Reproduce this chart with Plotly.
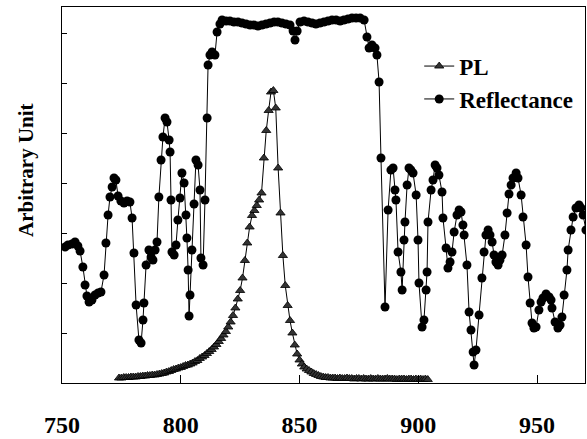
import plotly.graph_objects as go

# Reflectance (wavelength nm, arbitrary units)
refl_nm = [751.3, 752.5, 754.2, 755.5, 756.7, 757.6, 758.8, 759.7, 760.5, 761.4, 762.6, 763.9, 765.2, 766.4,
           767.7, 768.5, 769.4, 770.2, 771.1, 771.9, 772.7, 773.6, 774.8, 776.1, 777.4, 778.6, 779.5, 780.3,
           781.2, 782.4, 783.3, 784.1, 784.5, 785.4, 786.6, 787.5, 788.3, 789.2, 790.0, 790.8, 791.7, 792.5,
           793.4, 794.2, 795.1, 795.5, 795.9, 796.3, 797.2, 798.0, 798.8, 799.7, 800.5, 801.4, 802.2, 802.6,
           803.1, 803.5, 803.9, 804.7, 805.6, 806.4, 807.3, 808.1, 808.5, 809.4, 810.2, 811.1, 811.5, 812.3,
           813.2, 814.4, 815.3, 816.5,
           817.4, 819.1, 820.7, 822.4, 824.1, 825.8, 827.5, 829.2, 830.8, 832.5, 834.2, 835.9, 837.6, 839.3,
           840.9, 842.6, 844.3, 846.0, 847.3, 848.1, 849.0, 850.2, 851.9, 853.6, 855.3, 856.9, 858.6, 860.3,
           862.0, 863.7, 865.4, 867.1, 868.7, 870.4, 872.1, 873.8, 875.5, 877.2,
           878.4, 879.3, 880.5, 881.8, 882.6, 883.5, 884.3, 886.0, 887.3, 888.5, 889.4, 890.2, 890.6, 891.5,
           892.7, 893.2, 894.0, 894.4, 895.3, 896.1, 896.9, 897.8, 899.1, 899.9, 900.3, 901.6, 902.4, 903.3,
           903.7, 904.1, 905.4, 906.2, 907.1, 907.9, 908.7, 910.0, 910.4, 911.7, 912.5, 913.4, 914.2, 915.1,
           916.3, 917.2, 918.0, 918.8, 919.3, 920.5, 921.4, 922.2, 923.1, 923.5, 924.3, 925.6, 926.8, 927.7,
           928.5, 929.4, 930.2, 931.1, 931.9, 932.7, 933.6, 934.4, 935.3, 936.5, 937.4, 938.2, 939.1, 939.9,
           941.2, 942.0, 943.3, 944.1, 945.4, 946.2, 947.1, 947.9, 948.7, 949.6, 950.8, 951.7, 952.5, 953.8,
           955.1, 955.9, 956.3, 957.6, 958.8, 959.7, 960.5, 961.4, 962.6, 963.1, 964.3, 965.2, 966.4, 967.7,
           968.5, 969.4, 970.6]
refl_val = [2.72, 2.76, 2.78, 2.82, 2.74, 2.64, 2.32, 1.96, 1.74, 1.62, 1.66, 1.76, 1.80, 1.82,
            2.16, 2.80, 3.36, 3.72, 3.92, 4.10, 4.06, 3.74, 3.64, 3.60, 3.64, 3.62, 3.30, 2.60,
            1.56, 0.86, 0.80, 1.26, 1.60, 2.36, 2.66, 2.52, 2.46, 2.66, 2.82, 3.72, 4.46, 4.92,
            5.30, 5.22, 4.86, 4.62, 3.66, 2.62, 2.56, 2.76, 3.26, 3.70, 4.20, 4.00, 3.36, 2.90,
            2.26, 1.34, 1.76, 2.66, 3.58, 4.46, 4.36, 3.86, 2.50, 2.36, 3.66, 5.30, 6.36, 6.56,
            6.62, 6.56, 7.02, 7.18,
            7.26, 7.24, 7.24, 7.22, 7.22, 7.20, 7.18, 7.16, 7.16, 7.14, 7.16, 7.18, 7.20, 7.22,
            7.22, 7.20, 7.18, 7.16, 7.04, 6.86, 7.04, 7.22, 7.24, 7.22, 7.20, 7.18, 7.20, 7.22,
            7.24, 7.26, 7.26, 7.24, 7.26, 7.28, 7.30, 7.30, 7.30, 7.26,
            6.92, 6.70, 6.76, 6.70, 6.56, 6.02, 4.50, 1.52, 3.46, 4.26, 4.30, 3.86, 3.66, 2.62,
            2.22, 1.86, 2.86, 3.22, 3.96, 4.30, 4.26, 4.20, 3.76, 2.86, 2.00, 1.12, 1.26, 1.86,
            2.22, 3.22, 3.86, 4.06, 4.36, 4.30, 4.16, 3.82, 3.30, 2.70, 2.30, 2.42, 2.62, 3.02,
            3.36, 3.46, 3.42, 3.16, 2.96, 2.36, 1.42, 1.06, 0.62, 0.36, 0.66, 1.36, 2.10, 2.62,
            2.96, 3.06, 2.96, 2.82, 2.56, 2.42, 2.36, 2.46, 2.56, 2.96, 3.40, 3.78, 3.96, 4.10,
            4.20, 4.10, 3.76, 3.32, 2.76, 2.12, 1.60, 1.20, 1.10, 1.12, 1.46, 1.62, 1.70, 1.78,
            1.72, 1.66, 1.50, 1.22, 1.10, 1.16, 1.32, 1.76, 2.26, 2.66, 3.06, 3.32, 3.50, 3.56,
            3.50, 3.36, 3.06]

# Photoluminescence (1 nm steps from 774 to 904 nm)
pl_nm = list(range(774, 905))
pl_val = [0.10, 0.10, 0.11, 0.11, 0.11, 0.12, 0.12, 0.12, 0.13, 0.13,
          0.14, 0.14, 0.15, 0.15, 0.16, 0.16, 0.17, 0.18, 0.19, 0.20,
          0.22, 0.23, 0.25, 0.27, 0.28, 0.30, 0.31, 0.33, 0.35, 0.36,
          0.38, 0.40, 0.43, 0.45, 0.49, 0.52, 0.55, 0.59, 0.63, 0.67,
          0.72, 0.77, 0.83, 0.89, 0.96, 1.03, 1.12, 1.22, 1.35, 1.50,
          1.68, 1.85, 2.10, 2.45, 2.80, 3.12, 3.35, 3.45, 3.55, 3.66,
          3.80, 4.50, 5.05, 5.45, 5.82, 5.85, 5.50, 4.30, 3.40, 2.55,
          1.95, 1.55, 1.25, 1.00, 0.76, 0.58, 0.46, 0.38, 0.32, 0.28,
          0.25, 0.22, 0.19, 0.17, 0.15, 0.13, 0.12, 0.11, 0.11, 0.10,
          0.10, 0.10, 0.09, 0.10, 0.09, 0.09, 0.10, 0.09, 0.09, 0.08,
          0.09, 0.09, 0.08, 0.09, 0.08, 0.08, 0.09, 0.08, 0.08, 0.09,
          0.08, 0.08, 0.08, 0.09, 0.08, 0.08, 0.08, 0.07, 0.08, 0.08,
          0.08, 0.07, 0.08, 0.08, 0.07, 0.08, 0.07, 0.08, 0.07, 0.08,
          0.07]

x_ticks = [750, 800, 850, 900, 950]
y_ticks = [1, 2, 3, 4, 5, 6, 7]

SERIF = "Liberation Serif, Times New Roman, serif"

fig = go.Figure()
fig.add_trace(go.Scatter(
    x=pl_nm, y=pl_val, mode="lines+markers", name="PL",
    line=dict(color="black", width=1),
    marker=dict(symbol="triangle-up", size=8, color="#333333",
                line=dict(color="black", width=0.8)),
))
fig.add_trace(go.Scatter(
    x=refl_nm, y=refl_val, mode="lines+markers", name="Reflectance",
    line=dict(color="black", width=1),
    marker=dict(symbol="circle", size=9, color="black"),
))

fig.update_layout(
    width=587, height=439,
    margin=dict(l=62, r=2, t=7, b=56, autoexpand=False),
    paper_bgcolor="white", plot_bgcolor="white",
    showlegend=True,
    legend=dict(x=0.683, y=0.9, xanchor="left", yanchor="top",
                bgcolor="rgba(0,0,0,0)",
                font=dict(family=SERIF, size=23, color="black", weight="bold"),
                tracegroupgap=4),
    font=dict(family=SERIF, color="black"),
)
fig.update_xaxes(
    range=[750, 970.2], tickvals=x_ticks, ticktext=[str(v) for v in x_ticks],
    showgrid=False, zeroline=False, showline=True, linecolor="black", linewidth=1,
    mirror=True, ticks="inside", ticklen=8, tickcolor="black", automargin=False,
    tickfont=dict(family=SERIF, size=24, color="black", weight="bold"),
    ticklabelstandoff=20,
)
fig.update_yaxes(
    range=[0, 7.52], tickvals=y_ticks, showticklabels=False, automargin=False,
    showgrid=False, zeroline=False, showline=True, linecolor="black", linewidth=1,
    mirror=True, ticks="inside", ticklen=5, tickcolor="black",
)
fig.add_annotation(
    text="Arbitrary Unit", xref="paper", yref="paper",
    x=-36 / 523, y=(383 - 170) / 376, xanchor="center", yanchor="middle",
    textangle=-90, showarrow=False,
    font=dict(family=SERIF, size=21, color="black", weight="bold"),
)

fig.write_html("out.html", config={"displayModeBar": False},
               post_script="document.body.style.margin='0';")
